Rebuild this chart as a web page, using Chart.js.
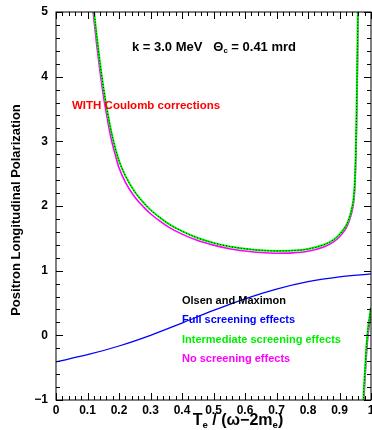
<!DOCTYPE html>
<html>
<head>
<meta charset="utf-8">
<script src="https://cdn.jsdelivr.net/npm/chart.js@4/dist/chart.umd.min.js"></script>
<style>
  body { margin: 0; background: #fff; }
  #wrap { width: 372px; height: 430px; }
</style>
</head>
<body>
<div id="wrap"><canvas id="myChart" width="372" height="430"></canvas></div>
<script>
// tick labels
const xTickValues = [0, 0.1, 0.2, 0.3, 0.4, 0.5, 0.6, 0.7, 0.8, 0.9, 1];
const xTickLabels = ['0', '0.1', '0.2', '0.3', '0.4', '0.5', '0.6', '0.7', '0.8', '0.9', '1'];
const yTickValues = [-1, 0, 1, 2, 3, 4, 5];
const yTickLabels = ['\u22121', '0', '1', '2', '3', '4', '5'];

// Full screening effects
const fullX = [0, 0.1, 0.2, 0.3, 0.4, 0.5, 0.6, 0.7, 0.8, 0.9, 1.0];
const fullY = [-0.41, -0.30, -0.165, 0.0, 0.19, 0.385, 0.565, 0.715, 0.83, 0.905, 0.95];

// upper branch x grid (shared by the three Coulomb-corrected curves)
const upperX = [0.112, 0.121, 0.13, 0.14, 0.15, 0.16, 0.17, 0.18, 0.19, 0.20, 0.22, 0.25, 0.28, 0.30, 0.33, 0.36, 0.40, 0.45, 0.50, 0.55, 0.60, 0.65, 0.70, 0.75, 0.80, 0.85, 0.88, 0.90, 0.92, 0.93, 0.94, 0.945, 0.948, 0.951, 0.953, 0.955, 0.957, 0.9585, 0.960, 0.961];

// Intermediate screening effects
const interUpperY = [5.5, 5.0, 4.6, 4.2, 3.85, 3.55, 3.28, 3.05, 2.86, 2.70, 2.47, 2.22, 2.04, 1.94, 1.82, 1.715, 1.61, 1.505, 1.43, 1.375, 1.34, 1.315, 1.305, 1.31, 1.335, 1.40, 1.475, 1.56, 1.69, 1.80, 1.98, 2.13, 2.32, 2.72, 3.15, 3.75, 4.5, 5.1, 5.6, 6.0];
const interLowerX = [0.975, 0.976, 0.979, 0.982, 0.985, 0.988, 0.991, 0.994, 0.997, 1.0];
const interLowerY = [-1.3, -1.0, -0.7, -0.45, -0.2, -0.02, 0.13, 0.24, 0.34, 0.43];

// Olsen and Maximon
const olsenUpperY = [5.5, 5.0, 4.6, 4.2, 3.85, 3.55, 3.28, 3.05, 2.86, 2.70, 2.47, 2.22, 2.04, 1.94, 1.82, 1.715, 1.61, 1.505, 1.43, 1.375, 1.34, 1.315, 1.305, 1.31, 1.335, 1.40, 1.475, 1.56, 1.69, 1.80, 1.98, 2.13, 2.32, 2.72, 3.15, 3.75, 4.5, 5.1, 5.6, 6.0];
const olsenLowerY = [-1.3, -1.0, -0.7, -0.45, -0.2, -0.02, 0.13, 0.24, 0.34, 0.43];

// No screening effects
const noScrUpperY = [5.3, 4.86, 4.46, 4.07, 3.72, 3.43, 3.16, 2.94, 2.76, 2.59, 2.37, 2.14, 1.975, 1.88, 1.765, 1.665, 1.565, 1.465, 1.395, 1.34, 1.305, 1.28, 1.27, 1.275, 1.30, 1.365, 1.44, 1.525, 1.65, 1.755, 1.92, 2.06, 2.23, 2.58, 2.95, 3.45, 4.1, 4.7, 5.3, 5.8];
const noScrLowerX = [0.977, 0.978, 0.981, 0.984, 0.987, 0.990, 0.993, 0.996, 1.0];
const noScrLowerY = [-1.3, -1.0, -0.68, -0.42, -0.2, -0.03, 0.1, 0.2, 0.32];

function pts(xs, ys) {
  return xs.map((x, i) => ({ x: x, y: ys[i] }));
}
function branches(xa, ya, xb, yb) {
  return pts(xa, ya).concat([{ x: 0.97, y: null }], pts(xb, yb));
}

const FONT = '"Liberation Sans", Arial, sans-serif';

function richText(ctx, parts, x, y, size, align) {
  let w = 0;
  parts.forEach(p => {
    ctx.font = 'bold ' + (p.sub ? size * 0.6 : size) + 'px ' + FONT;
    w += ctx.measureText(p.t).width;
  });
  let cx = align === 'center' ? x - w / 2 : x;
  ctx.textAlign = 'left';
  ctx.textBaseline = 'middle';
  parts.forEach(p => {
    ctx.font = 'bold ' + (p.sub ? size * 0.6 : size) + 'px ' + FONT;
    ctx.fillText(p.t, cx, p.sub ? y + size * 0.3 : y);
    cx += ctx.measureText(p.t).width;
  });
}

const decorations = {
  id: 'decorations',
  afterDraw(chart) {
    const ctx = chart.ctx;
    const a = chart.chartArea;
    const xs = chart.scales.x, ys = chart.scales.y;
    ctx.save();
    ctx.strokeStyle = '#000';
    ctx.lineWidth = 1;
    ctx.strokeRect(a.left, a.top, a.right - a.left, a.bottom - a.top);
    ctx.beginPath();
    for (let i = 0; i <= 50; i++) {
      const v = i * 0.02;
      const px = Math.round(xs.getPixelForValue(v)) + 0.5;
      const len = i % 5 === 0 ? 7 : 4;
      ctx.moveTo(px, a.bottom); ctx.lineTo(px, a.bottom - len);
      ctx.moveTo(px, a.top); ctx.lineTo(px, a.top + len);
    }
    for (let i = 0; i <= 30; i++) {
      const v = -1 + i * 0.2;
      const py = Math.round(ys.getPixelForValue(v)) + 0.5;
      const len = i % 5 === 0 ? 7 : 4;
      ctx.moveTo(a.left, py); ctx.lineTo(a.left + len, py);
      ctx.moveTo(a.right, py); ctx.lineTo(a.right - len, py);
    }
    ctx.stroke();

    ctx.fillStyle = '#000';
    richText(ctx, [{ t: 'k = 3.0 MeV   \u0398' }, { t: 'c', sub: true }, { t: ' = 0.41 mrd' }], 214, 47, 13, 'center');
    ctx.fillStyle = '#ff0000';
    richText(ctx, [{ t: 'WITH Coulomb corrections' }], 72, 106, 11.5, 'left');

    ctx.fillStyle = '#000';
    richText(ctx, [{ t: 'Olsen and Maximon' }], 182, 301, 11, 'left');
    ctx.fillStyle = '#0000ff';
    richText(ctx, [{ t: 'Full screening effects' }], 182, 320, 11, 'left');
    ctx.fillStyle = '#00ee00';
    richText(ctx, [{ t: 'Intermediate screening effects' }], 182, 339.5, 11, 'left');
    ctx.fillStyle = '#ff00ff';
    richText(ctx, [{ t: 'No screening effects' }], 182, 359, 11, 'left');

    ctx.fillStyle = '#000';
    richText(ctx, [{ t: 'T' }, { t: 'e', sub: true }, { t: ' / (\u03c9\u22122m' }, { t: 'e', sub: true }, { t: ')' }], 238, 421, 16, 'center');

    ctx.translate(16, 210);
    ctx.rotate(-Math.PI / 2);
    richText(ctx, [{ t: 'Positron Longitudinal Polarization' }], 0, 0, 13, 'center');
    ctx.restore();
  }
};

const ctx = document.getElementById('myChart');

new Chart(ctx, {
  type: 'line',
  data: {
    datasets: [
      {
        label: 'Olsen and Maximon',
        data: branches(upperX, olsenUpperY, interLowerX, olsenLowerY),
        borderColor: '#000',
        borderWidth: 1,
        borderDash: [1, 2]
      },
      {
        label: 'Intermediate screening effects',
        data: branches(upperX, interUpperY, interLowerX, interLowerY),
        borderColor: '#00ff00',
        borderWidth: 2
      },
      {
        label: 'No screening effects',
        data: branches(upperX, noScrUpperY, noScrLowerX, noScrLowerY),
        borderColor: '#ff00ff',
        borderWidth: 1.6
      },
      {
        label: 'Full screening effects',
        data: pts(fullX, fullY),
        borderColor: '#0000ff',
        borderWidth: 1.3
      }
    ]
  },
  options: {
    responsive: false,
    animation: false,
    spanGaps: false,
    elements: {
      point: { radius: 0 },
      line: { cubicInterpolationMode: 'monotone', fill: false }
    },
    layout: { padding: { top: 12, right: 1, left: 0, bottom: 0 } },
    plugins: {
      legend: { display: false },
      tooltip: { enabled: false }
    },
    scales: {
      x: {
        type: 'linear',
        min: 0,
        max: 1,
        grid: { display: false, drawTicks: false },
        border: { display: false },
        afterBuildTicks: s => { s.ticks = xTickValues.map(v => ({ value: v })); },
        afterFit: s => { s.height = 30; s.paddingLeft = 0; s.paddingRight = 0; },
        ticks: {
          padding: 3,
          maxRotation: 0,
          autoSkip: false,
          color: '#000',
          font: { family: FONT, size: 12, weight: 'bold' },
          callback: (v, i) => xTickLabels[i]
        }
      },
      y: {
        type: 'linear',
        min: -1,
        max: 5,
        grid: { display: false, drawTicks: false },
        border: { display: false },
        afterBuildTicks: s => { s.ticks = yTickValues.map(v => ({ value: v })); },
        afterFit: s => { s.width = 56; s.paddingTop = 0; s.paddingBottom = 0; },
        ticks: {
          padding: 8,
          autoSkip: false,
          color: '#000',
          font: { family: FONT, size: 12, weight: 'bold' },
          callback: (v, i) => yTickLabels[i]
        }
      }
    }
  },
  plugins: [decorations]
});
</script>
</body>
</html>
